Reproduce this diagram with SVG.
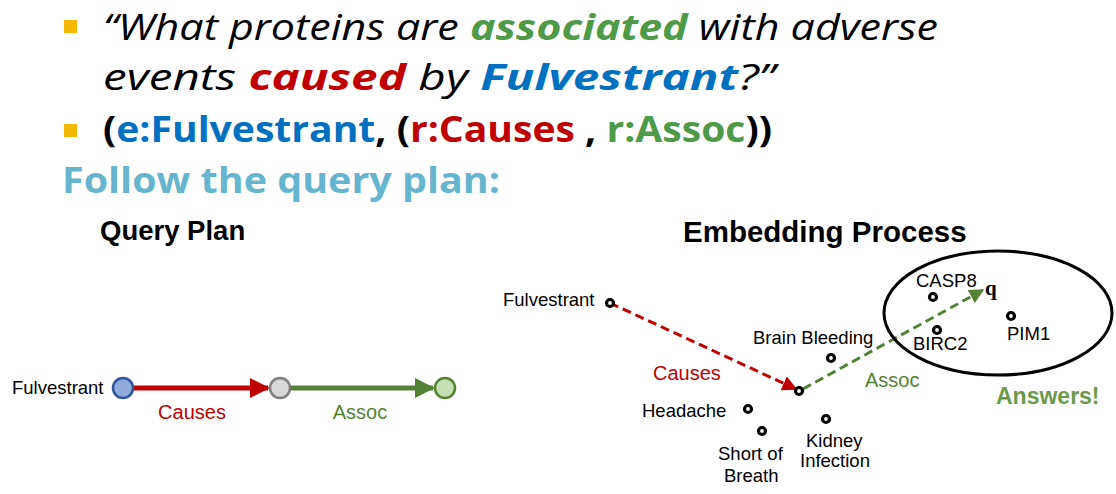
<svg xmlns="http://www.w3.org/2000/svg" width="1116" height="494" viewBox="0 0 1116 494">
<style>
.h{font-family:"Open Sans",Lato,sans-serif;font-size:36px}
.it{font-style:italic}
.b{font-weight:bold}
.l{font-family:"Liberation Sans",Arial,sans-serif;font-size:18.5px;fill:#000}
.dot{fill:#fff;stroke:#000;stroke-width:3.2}
</style>
<defs>
<marker id="ar" viewBox="0 0 10 10" refX="9" refY="5" markerWidth="4" markerHeight="4" orient="auto"><path d="M0,0L10,5L0,10z" fill="#c00000"/></marker>
<marker id="ag" viewBox="0 0 10 10" refX="9" refY="5" markerWidth="4" markerHeight="4" orient="auto"><path d="M0,0L10,5L0,10z" fill="#548235"/></marker>
<marker id="dr" viewBox="0 0 10 10" refX="9" refY="5" markerWidth="5" markerHeight="5" orient="auto"><path d="M0,0L10,5L0,10z" fill="#c00000"/></marker>
<marker id="dg" viewBox="0 0 10 10" refX="9" refY="5" markerWidth="5" markerHeight="5" orient="auto"><path d="M0,0L10,5L0,10z" fill="#548235"/></marker>
</defs>
<rect width="1116" height="494" fill="#fff"/>
<g id="header">
<rect x="64" y="20" width="13" height="13" fill="#f5b800"/>
<rect x="64" y="124" width="13" height="13" fill="#f5b800"/>
<text class="h it" x="103" y="40" textLength="835" lengthAdjust="spacingAndGlyphs">“What proteins are <tspan class="b" fill="#4e9a48">associated</tspan> with adverse</text>
<text class="h it" x="103" y="90" textLength="672" lengthAdjust="spacingAndGlyphs">events <tspan class="b" fill="#c00000">caused</tspan> by <tspan class="b" fill="#0070c0">Fulvestrant</tspan>?”</text>
<text class="h b" x="103" y="142" textLength="669" lengthAdjust="spacingAndGlyphs">(<tspan fill="#0070c0">e:Fulvestrant</tspan>, (<tspan fill="#c00000">r:Causes </tspan>, <tspan fill="#4e9a48">r:Assoc</tspan>))</text>
<text class="h b" x="62" y="193" fill="#65b5cf" textLength="438" lengthAdjust="spacingAndGlyphs">Follow the query plan:</text>
<text x="100" y="240" font-family="Liberation Sans,Arial,sans-serif" font-size="27.5" font-weight="bold">Query Plan</text>
<text x="683" y="242" font-family="Liberation Sans,Arial,sans-serif" font-size="29.5" font-weight="bold">Embedding Process</text>
</g>
<g id="connectors">
<line x1="133" y1="388" x2="268" y2="388" stroke="#c00000" stroke-width="5" marker-end="url(#ar)"/>
<line x1="290" y1="388" x2="433" y2="388" stroke="#548235" stroke-width="5" marker-end="url(#ag)"/>
<line x1="610" y1="303" x2="796" y2="389" stroke="#c00000" stroke-width="3" stroke-dasharray="9,5" marker-end="url(#dr)"/>
<line x1="803" y1="389" x2="983" y2="290" stroke="#548235" stroke-width="3" stroke-dasharray="9,5" marker-end="url(#dg)"/>
</g>
<g id="plan-nodes">
<text class="l" x="12" y="394">Fulvestrant</text>
<circle cx="123" cy="388" r="10" fill="#8faadc" stroke="#2f5597" stroke-width="2.5"/>
<circle cx="280" cy="388" r="10" fill="#d9d9d9" stroke="#7f7f7f" stroke-width="2.5"/>
<circle cx="445" cy="388" r="10" fill="#c5e0b4" stroke="#548235" stroke-width="2.5"/>
<text x="192" y="419" text-anchor="middle" font-family="Liberation Sans,Arial,sans-serif" font-size="20" fill="#c00000">Causes</text>
<text x="360" y="419" text-anchor="middle" font-family="Liberation Sans,Arial,sans-serif" font-size="20" fill="#548235">Assoc</text>
</g>
<g id="embedding">
<ellipse cx="998" cy="313" rx="114" ry="62" fill="none" stroke="#000" stroke-width="3"/>
<circle class="dot" cx="610" cy="303" r="3.5"/>
<circle class="dot" cx="799" cy="391" r="3.5"/>
<circle class="dot" cx="831" cy="358" r="3.5"/>
<circle class="dot" cx="748" cy="409" r="3.5"/>
<circle class="dot" cx="762" cy="431" r="3.5"/>
<circle class="dot" cx="826" cy="419" r="3.5"/>
<circle class="dot" cx="933" cy="297" r="3.5"/>
<circle class="dot" cx="937" cy="330" r="3.5"/>
<circle class="dot" cx="1011" cy="316" r="3.5"/>
<text class="l" x="503" y="306">Fulvestrant</text>
<text x="653" y="380" font-family="Liberation Sans,Arial,sans-serif" font-size="20" fill="#c00000">Causes</text>
<text x="865" y="387" font-family="Liberation Sans,Arial,sans-serif" font-size="20" fill="#548235">Assoc</text>
<text class="l" x="753" y="344">Brain Bleeding</text>
<text class="l" x="642" y="417">Headache</text>
<text class="l" x="718" y="460">Short of</text>
<text class="l" x="724" y="482">Breath</text>
<text class="l" x="806" y="447">Kidney</text>
<text class="l" x="800" y="467">Infection</text>
<text class="l" x="916" y="287">CASP8</text>
<text class="l" x="913" y="350">BIRC2</text>
<text class="l" x="1007" y="340">PIM1</text>
<text x="985" y="295" font-family="Liberation Serif,serif" font-size="21" font-weight="bold">q</text>
<text x="996" y="404" font-family="Liberation Sans,Arial,sans-serif" font-size="23" font-weight="bold" fill="#6a9a4a">Answers!</text>
</g>
</svg>
